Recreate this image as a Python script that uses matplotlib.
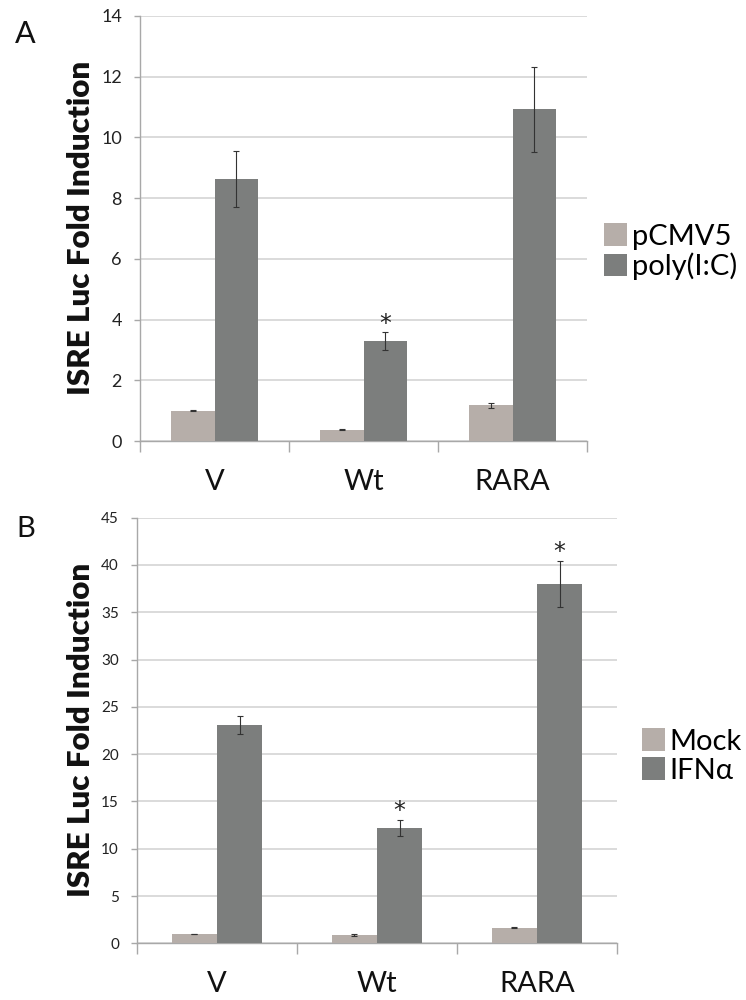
import matplotlib.pyplot as plt
from matplotlib.patches import Patch
import numpy as np

plt.rcParams['font.family'] = ['Lato', 'DejaVu Sans']

categories = ['V', 'Wt', 'RARA']

# panel A
a_labels = ['pCMV5', 'poly(I:C)']
a_ctrl = [1.0, 0.37, 1.17]
a_ctrl_err = [0.01, 0.02, 0.08]
a_treat = [8.63, 3.29, 10.93]
a_treat_err = [0.93, 0.29, 1.40]
a_star = [False, True, False]

# panel B
b_labels = ['Mock', 'IFNα']
b_ctrl = [0.98, 0.85, 1.65]
b_ctrl_err = [0.04, 0.1, 0.05]
b_treat = [23.08, 12.22, 38.0]
b_treat_err = [0.98, 0.85, 2.45]
b_star = [False, True, True]

light = '#b6aea9'
dark = '#7c7e7d'
grid_c = '#d4d4d4'
spine_c = '#a8a8a8'

fig = plt.figure(figsize=(7.46, 10), dpi=100)


def panel(rect, ymax, ystep, ctrl, ctrl_err, treat, treat_err, stars, labels,
          tick_fs, bar_w, leg_anchor):
    ax = fig.add_axes(rect)
    x = np.arange(len(categories))
    ekw = dict(ecolor='#333333', elinewidth=0.8, capsize=2, capthick=0.8)
    ax.bar(x - bar_w / 2, ctrl, bar_w, color=light, yerr=ctrl_err,
           error_kw=ekw, zorder=3)
    ax.bar(x + bar_w / 2, treat, bar_w, color=dark, yerr=treat_err,
           error_kw=ekw, zorder=3)
    for xi, v, e, s in zip(x, treat, treat_err, stars):
        if s:
            ax.annotate('*', xy=(xi + bar_w / 2, v + e), xytext=(0, 6),
                        textcoords='offset points', ha='center', va='center',
                        fontsize=17, family='DejaVu Sans', color='#222222')
    ax.set_xlim(-0.5, len(categories) - 0.5)
    ax.set_ylim(0, ymax)
    ax.set_yticks(np.arange(0, ymax + 0.1, ystep))
    ax.yaxis.grid(True, color=grid_c, linewidth=1.2, zorder=0)
    ax.set_axisbelow(True)
    for s in ['top', 'right']:
        ax.spines[s].set_visible(False)
    for s in ['left', 'bottom']:
        ax.spines[s].set_color(spine_c)
        ax.spines[s].set_linewidth(1.0)
    ax.set_xticks(x)
    ax.set_xticklabels(categories)
    ax.set_xticks(np.arange(-0.5, len(categories)), minor=True)
    ax.tick_params(axis='x', which='major', length=0, pad=20, labelsize=21,
                   labelcolor='#111111')
    ax.tick_params(axis='x', which='minor', length=8, color=spine_c, width=1)
    ax.tick_params(axis='y', length=4, color=spine_c, width=1, pad=9,
                   labelsize=tick_fs, labelcolor='#222222')
    handles = [Patch(facecolor=light), Patch(facecolor=dark)]
    ax.legend(handles, labels, loc='center left', bbox_to_anchor=leg_anchor,
              frameon=False, fontsize=21, handlelength=0.8, handleheight=0.8,
              handletextpad=0.15, labelspacing=0.1, borderaxespad=0)
    return ax


panel([140 / 746, 0.559, 447 / 746, 0.425], 14, 2, a_ctrl, a_ctrl_err,
      a_treat, a_treat_err, a_star, a_labels, 13, 0.289, (1.012, 0.445))
panel([137 / 746, 0.0567, 480 / 746, 0.4256], 45, 5, b_ctrl, b_ctrl_err,
      b_treat, b_treat_err, b_star, b_labels, 11, 0.284, (1.028, 0.44))

for txt, yc in [('ISRE Luc Fold Induction', 1 - 228 / 1000),
                ('ISRE Luc Fold Induction', 1 - 730 / 1000)]:
    fig.text(81 / 746, yc, txt, rotation=90, ha='center', va='center',
             fontsize=22.5, fontweight='heavy', color='#111111')

fig.text(15 / 746, 1 - 43 / 1000, 'A', fontsize=22, ha='left', va='baseline',
         color='#111111')
fig.text(16 / 746, 1 - 537 / 1000, 'B', fontsize=21, ha='left', va='baseline',
         color='#111111')

fig.savefig('out.png', dpi=100, facecolor='white')
